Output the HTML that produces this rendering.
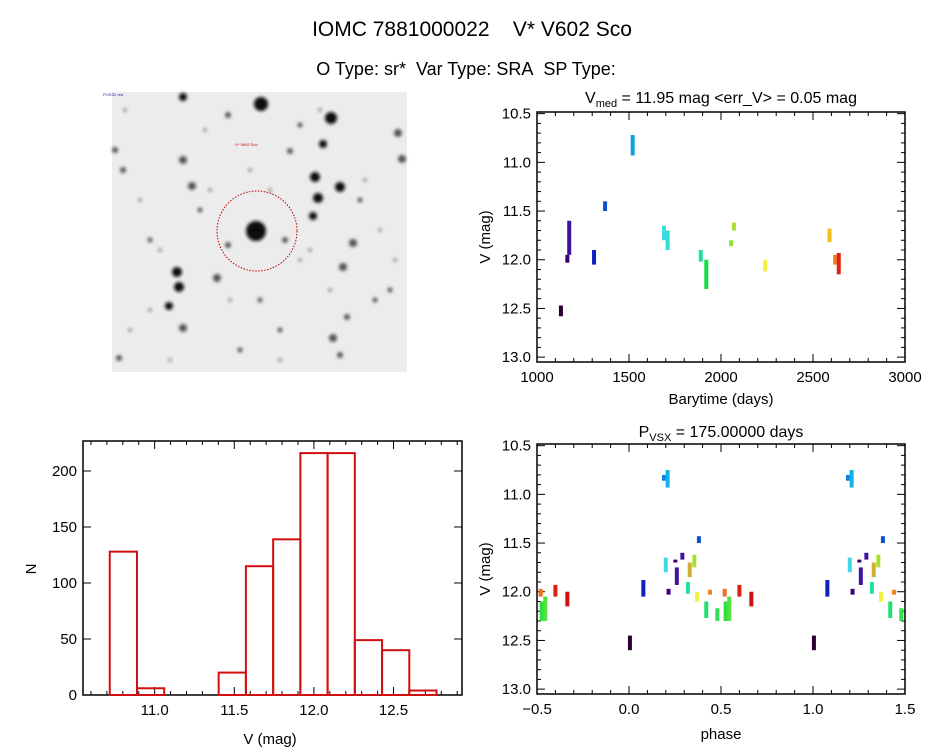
<!DOCTYPE html>
<html><head><meta charset="utf-8"><style>
html,body{margin:0;padding:0;background:#fff;}
svg{display:block;font-family:"Liberation Sans",sans-serif;}
</style></head><body>
<svg id="s" width="944" height="747" viewBox="0 0 944 747">
<text x="472" y="36" text-anchor="middle" font-size="21">IOMC 7881000022&#160;&#160;&#160;&#160;V* V602 Sco</text>
<text x="466" y="75" text-anchor="middle" font-size="18">O Type: sr*&#160;&#160;Var Type: SRA&#160;&#160;SP Type:</text>
<g>
<defs><filter id="bl" x="-1" y="-1" width="3" height="3"><feGaussianBlur stdDeviation="1.6"/></filter></defs>
<rect x="112" y="92" width="295" height="280" fill="#ececec"/>
<g id="stars" filter="url(#bl)"></g>
<circle cx="257" cy="231" r="40" fill="none" stroke="#c00000" stroke-width="1" stroke-dasharray="1.5,1.5"/>
<text x="235" y="146" font-size="4" fill="#c00">V* V602 Sco</text>
<text x="103" y="96" font-size="4" fill="#22a">POSS2 red</text>
</g>
<g id="lc"></g><g id="ph"></g><g id="hist"></g>
</svg>
<script>
const NS="http://www.w3.org/2000/svg";
function mk(p,t,a,txt){const e=document.createElementNS(NS,t);for(const k in a)e.setAttribute(k,a[k]);if(txt!==undefined)e.textContent=txt;p.appendChild(e);return e;}

// sky stars
const starX=[256,261,331,183,323,315,340,318,313,177,179,169,183,192,398,402,353,343,333,183,217,290,115,123,285,228,347,340,119,228,300,260,375,150,200,390,240,280,360,140,160,210,250,300,330,380,130,170,230,270,310,365,395,125,205,320,150,280];
const starY=[231,104,118,97,144,177,187,198,216,272,287,306,160,186,133,159,243,267,338,328,278,151,150,170,240,245,317,355,358,115,125,300,300,240,210,290,350,330,200,200,250,190,170,260,290,230,330,360,300,190,250,180,260,110,130,110,310,360];
const starR=[10,7,6,4,4,5,5,5,4,5,5,4,4,4,4,4,4,4,4,4,4,3,3,3,3,3,3,3,3,3,2.5,2.5,2.5,2.5,2.5,2.5,2.5,2.5,2.5,2,2,2,2,2,2,2,2,2,2,2,2,2,2,2,2,2,2,2];
const sg=document.getElementById('stars');
for(let i=0;i<starX.length;i++){
 const c=mk(sg,'circle',{cx:starX[i],cy:starY[i],r:starR[i],fill:i<12?'#111':(i<39?'#555':'#999')});
 
 
}

function axes(g,x0,x1,y0,y1,xmin,xmax,ymin,ymax,xt,xmi,yt,ymi,xfmt,yfmt,inv){
 const X=v=>x0+(v-xmin)/(xmax-xmin)*(x1-x0);
 const Y=inv?(v=>y0+(v-ymin)/(ymax-ymin)*(y1-y0)):(v=>y1-(v-ymin)/(ymax-ymin)*(y1-y0));
 mk(g,'rect',{x:x0,y:y0,width:x1-x0,height:y1-y0,fill:'none',stroke:'#000','stroke-width':1.5});
 const xs=Math.ceil(xmin/xmi-1e-6);
 for(let k=xs;k*xmi<=xmax+1e-9;k++){const v=k*xmi;const x=X(v);const maj=Math.abs(v/xt-Math.round(v/xt))<1e-6;const L=maj?8:4;
  mk(g,'line',{x1:x,x2:x,y1:y1,y2:y1-L,stroke:'#000'});mk(g,'line',{x1:x,x2:x,y1:y0,y2:y0+L,stroke:'#000'});
  if(maj){const t=mk(g,'text',{x:x,y:y1+20,'text-anchor':'middle','font-size':15},xfmt(v));}}
 const ylo=Math.min(ymin,ymax),yhi=Math.max(ymin,ymax);
 const ys=Math.ceil(ylo/ymi-1e-6);
 for(let k=ys;k*ymi<=yhi+1e-9;k++){const v=k*ymi;const y=Y(v);const maj=Math.abs(v/yt-Math.round(v/yt))<1e-6;const L=maj?8:4;
  mk(g,'line',{x1:x0,x2:x0+L,y1:y,y2:y,stroke:'#000'});mk(g,'line',{x1:x1,x2:x1-L,y1:y,y2:y,stroke:'#000'});
  if(maj){const t=mk(g,'text',{x:x0-6,y:y+5,'text-anchor':'end','font-size':15},yfmt(v));}}
 return [X,Y];
}

// light curve data
const lcTime=[1130,1165,1175,1310,1370,1520,1690,1710,1890,1920,2055,2070,2240,2590,2620,2640];
const lcVTop=[12.47,11.95,11.6,11.9,11.4,10.72,11.65,11.7,11.9,12.0,11.8,11.62,12.0,11.68,11.95,11.93];
const lcVBot=[12.58,12.03,11.95,12.05,11.5,10.93,11.8,11.9,12.02,12.3,11.86,11.7,12.12,11.82,12.05,12.15];
const lcColor=['#2a0030','#3a0070','#4010a0','#1020c0','#1050d0','#10a0e0','#40d8e8','#30e0d0','#20e0a0','#10e040','#90e030','#a8e030','#f0f040','#f0c020','#f08020','#e02010'];

const lc=document.getElementById('lc');
const [LX,LY]=axes(lc,537,905,112,362,1000,3000,10.483,13.05,500,100,0.5,0.1,v=>Math.round(v),v=>v.toFixed(1),true);
mk(lc,'text',{x:721,y:103,'text-anchor':'middle','font-size':16},'').innerHTML='V<tspan font-size="11" dy="4">med</tspan><tspan dy="-4"> = 11.95 mag &lt;err_V&gt; = 0.05 mag</tspan>';
mk(lc,'text',{x:721,y:404,'text-anchor':'middle','font-size':15},'Barytime (days)');
mk(lc,'text',{x:0,y:0,'text-anchor':'middle','font-size':15,transform:'translate(490,237) rotate(-90)'},'V (mag)');
for(let i=0;i<lcTime.length;i++){
 const r=mk(lc,'rect',{x:LX(lcTime[i])-2,y:LY(lcVTop[i]),width:4,height:LY(lcVBot[i])-LY(lcVTop[i]),fill:lcColor[i]});
 
 
}

// phase data
const phPhase=[0.005,0.078,0.19,0.21,0.2,0.215,0.26,0.29,0.252,0.32,0.33,0.355,0.38,0.37,0.42,0.44,0.48,0.52,0.525,0.545,0.6,0.665];
const phVTop=[12.45,11.88,10.8,10.75,11.65,11.97,11.75,11.6,11.67,11.9,11.7,11.62,11.43,12.0,12.1,11.98,12.17,11.97,12.1,12.05,11.93,12.0];
const phVBot=[12.6,12.05,10.86,10.93,11.8,12.03,11.93,11.67,11.7,12.02,11.85,11.75,11.5,12.1,12.27,12.03,12.3,12.05,12.3,12.3,12.05,12.15];
const phColor=['#2a0030','#1020c0','#1080e0','#10b0e8','#40d8e8','#3a0070','#4010a0','#4010a0','#3a0070','#20e0a0','#d0b030','#a8e030','#1050d0','#f0f040','#20e070','#f08020','#30e050','#f07020','#30e040','#50e040','#e02010','#d01010'];

const ph=document.getElementById('ph');
const [PX,PY]=axes(ph,537,905,444,694,-0.5,1.5,10.483,13.05,0.5,0.1,0.5,0.1,v=>v.toFixed(1).replace('-','\u2212'),v=>v.toFixed(1),true);
mk(ph,'text',{x:721,y:437,'text-anchor':'middle','font-size':16},'').innerHTML='P<tspan font-size="11" dy="4">VSX</tspan><tspan dy="-4"> = 175.00000 days</tspan>';
mk(ph,'text',{x:721,y:739,'text-anchor':'middle','font-size':15},'phase');
mk(ph,'text',{x:0,y:0,'text-anchor':'middle','font-size':15,transform:'translate(490,569) rotate(-90)'},'V (mag)');
for(let i=0;i<phPhase.length;i++){
 for(const off of [-1,0,1]){const p=phPhase[i]+off; if(p<-0.5||p>1.5)continue;
  const r=mk(ph,'rect',{x:PX(p)-2,y:PY(phVTop[i]),width:4,height:PY(phVBot[i])-PY(phVTop[i]),fill:phColor[i]});
  
  
 }
}

// histogram
const binStart=[10.718,10.889,11.06,11.231,11.402,11.573,11.744,11.915,12.086,12.257,12.428,12.599];
const binCount=[128,6,0,0,20,115,139,216,216,49,40,4];
const binWidth=0.171;
const hg=document.getElementById('hist');
const [HX,HY]=axes(hg,83,462,441,695,10.55,12.93,0,226.8,0.5,0.1,50,50,v=>v.toFixed(1),v=>Math.round(v),false);
mk(hg,'text',{x:270,y:744,'text-anchor':'middle','font-size':15},'V (mag)');
mk(hg,'text',{x:0,y:0,'text-anchor':'middle','font-size':15,transform:'translate(36,569) rotate(-90)'},'N');
for(let i=0;i<binStart.length;i++){
 const x=HX(binStart[i]),w=HX(binStart[i]+binWidth)-x,y=HY(binCount[i]);
 const r=mk(hg,'rect',{x:x,y:y,width:w,height:695-y,fill:'none',stroke:'#d01010','stroke-width':2});
 
 
}
</script>
</body></html>
